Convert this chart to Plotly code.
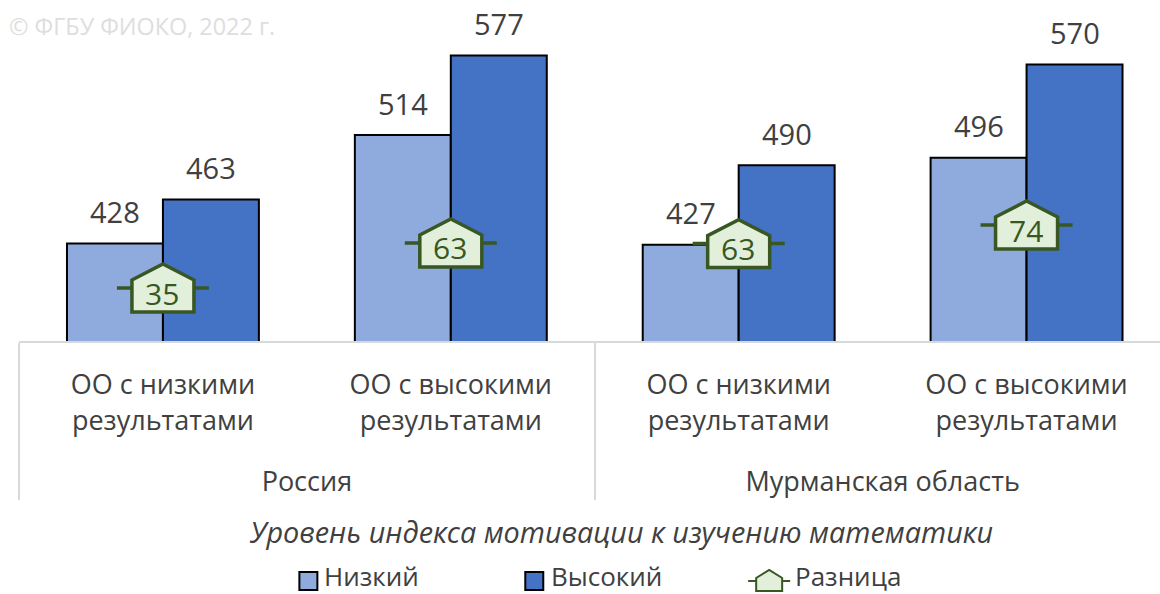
import plotly.graph_objects as go

BLANK = '<br><span style="font-size:47px"> </span>'
regions = ["Россия", "Россия", "Мурманская область", "Мурманская область"]
groups = ["ОО с низкими<br>результатами" + BLANK, "ОО с высокими<br>результатами" + BLANK,
          "ОО с низкими<br>результатами" + BLANK, "ОО с высокими<br>результатами" + BLANK]
low = [428, 514, 427, 496]
high = [463, 577, 490, 570]
diff = [35, 63, 63, 74]
diff_pos = [392.8, 428.5, 428.0, 442.7]
axis_title = "Уровень индекса мотивации к изучению математики"
watermark = "© ФГБУ ФИОКО, 2022 г."
legend_names = ["Низкий", "Высокий", "Разница"]

FONT = "Open Sans"
TEXT = "#404040"
LOW_C, HIGH_C = "#8FAADC", "#4472C4"
GREEN, GREEN_F = "#385723", "#E2EFDA"
W, H = 1160, 594
L, B = 18.5, 594 - 341
PW, PH = W - L, H - B

def px(x):
    return (x - L) / PW
def py(y):
    return (H - B - y) / PH

x = [regions, groups]
fig = go.Figure()
for name, vals, col, side in [(legend_names[0], low, LOW_C, -48), (legend_names[1], high, HIGH_C, 48)]:
    fig.add_bar(x=x, y=vals, name=name, marker=dict(color=col, line=dict(color="black", width=2)),
                showlegend=False)
    for i, v in enumerate(vals):
        fig.add_annotation(x=i, y=v, xref="x", yref="y", text=str(v), showarrow=False, xshift=side,
                           yshift=32, yanchor="middle", font=dict(size=29, color=TEXT, family=FONT))

HOUSE = "M-31,-24 L-31,8 L0,24 L31,8 L31,-24 Z"
WHISK = "M-46,0 L46,0"
for i, (d, p) in enumerate(zip(diff, diff_pos)):
    for path in (WHISK, HOUSE):
        fig.add_shape(type="path", xref="x", yref="y", xsizemode="pixel", ysizemode="pixel",
                      xanchor=i, yanchor=p, path=path, fillcolor=GREEN_F,
                      line=dict(color=GREEN, width=3.5), layer="above")
    fig.add_annotation(x=i, y=p, xref="x", yref="y", text=str(d), showarrow=False, yshift=-5, xshift=-1,
                       font=dict(size=30, color=GREEN, family=FONT))

def note(x_, y_, text, size, color=TEXT, anchor="left"):
    fig.add_annotation(x=px(x_), y=py(y_), xref="paper", yref="paper", text=text, xanchor=anchor, yanchor="middle",
                       showarrow=False, font=dict(size=size, color=color, family=FONT))

note(621, 531, "<i>" + axis_title + "</i>", 28.8, anchor="center")
note(6, 26, watermark, 23.4, "#DEDEDE")

# custom legend
for (lx, tx, name, col) in [(299, 322, legend_names[0], LOW_C), (525, 549, legend_names[1], HIGH_C)]:
    fig.add_shape(type="rect", xref="paper", yref="paper", x0=px(lx), x1=px(lx + 18), y0=py(572), y1=py(590),
                  fillcolor=col, line=dict(color="black", width=2))
    note(tx, 576, name, 26)
for path in ("M-21,0 L21,0", "M-13,-10 L-13,3 L0,11 L13,3 L13,-10 Z"):
    fig.add_shape(type="path", xref="paper", yref="paper", xsizemode="pixel", ysizemode="pixel",
                  xanchor=px(769), yanchor=py(581), path=path, fillcolor=GREEN_F,
                  line=dict(color=GREEN, width=2))
note(793, 576, legend_names[2], 26)

fig.update_layout(
    width=W, height=H, autosize=False, barmode="group", bargap=1/3, bargroupgap=0,
    margin=dict(l=L, r=0, t=0, b=B, pad=0), plot_bgcolor="white", paper_bgcolor="white",
    font=dict(family=FONT, size=27, color=TEXT),
    xaxis=dict(type="multicategory", range=[-0.5, (W - L) / 288 - 0.5], showline=True, linecolor="#D9D9D9", linewidth=2,
               ticks="", dividercolor="#D9D9D9", dividerwidth=2, tickfont=dict(size=27, color=TEXT, family=FONT),
               ticklabelstandoff=19, automargin=False),
    yaxis=dict(range=[350.8, 350.8 + PH / 1.2617], visible=False, showgrid=False, zeroline=False),
)
fig.write_html("out.html", config={"displayModeBar": False}, post_script="document.body.style.margin='0';")
